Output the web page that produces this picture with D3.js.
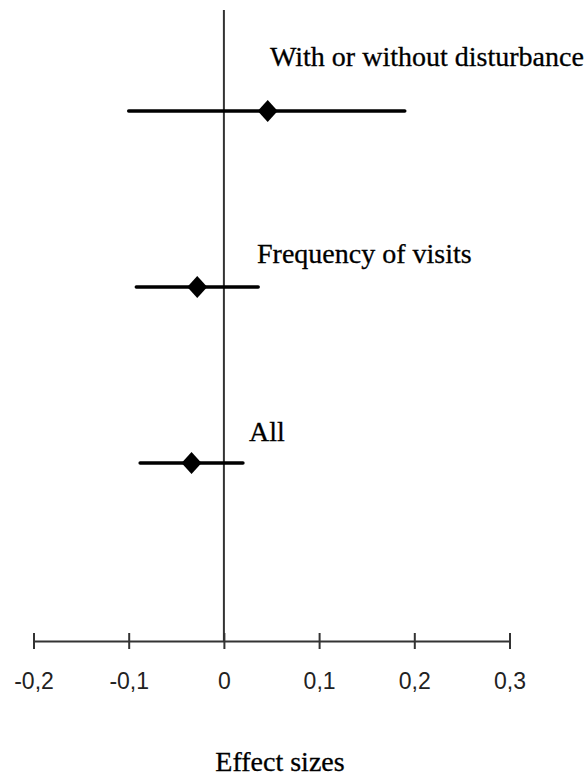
<!DOCTYPE html>
<html>
<head>
<meta charset="utf-8">
<script src="https://d3js.org/d3.v7.min.js"></script>
<style>
  body { margin: 0; background: #fff; }
  .lab { font-family: "Liberation Serif", "Times New Roman", serif; font-size: 28px; fill: #000; stroke: #000; stroke-width: 0.3px; }
  .tick text { font-family: "Liberation Sans", Arial, sans-serif; font-size: 23px; fill: #222; }
</style>
</head>
<body>
<svg width="588" height="778"></svg>
<script>
// data
var groups = ["With or without disturbance", "Frequency of visits", "All"];
var effect = [0.046, -0.028, -0.034];
var lower  = [-0.10, -0.092, -0.088];
var upper  = [0.19, 0.036, 0.020];
var tickValues = [-0.2, -0.1, 0, 0.1, 0.2, 0.3];
var tickLabels = ["-0,2", "-0,1", "0", "0,1", "0,2", "0,3"];

var svg = d3.select("svg");
var axisY = 641;

var x = d3.scaleLinear().domain([-0.2, 0.3]).range([33.5, 509.5]);
var y = d3.scalePoint().domain(groups).range([111, 463]);

// zero line
svg.append("line")
  .attr("x1", x(0)).attr("x2", x(0))
  .attr("y1", 10).attr("y2", axisY)
  .style("stroke", "#333").style("stroke-width", 2);

// axis
var ax = svg.append("g")
  .attr("transform", "translate(0," + axisY + ")")
  .call(d3.axisBottom(x).tickValues(tickValues)
    .tickFormat(function(d, i) { return tickLabels[i]; })
    .tickSizeOuter(0).tickSizeInner(8).tickPadding(24));
ax.select(".domain").style("stroke", "#333").style("stroke-width", 2);
ax.selectAll(".tick line").attr("y1", -8).style("stroke", "#333").style("stroke-width", 2);

// error bars
svg.append("g").selectAll("line")
  .data(groups).enter().append("line")
  .attr("x1", function(d, i) { return x(lower[i]); })
  .attr("x2", function(d, i) { return x(upper[i]); })
  .attr("y1", function(d) { return y(d); })
  .attr("y2", function(d) { return y(d); })
  .style("stroke", "#000").style("stroke-width", 3.5)
  .style("stroke-linecap", "round");

// diamonds
var diamond = {
  draw: function(ctx, size) {
    var w = 10, h = 11;
    ctx.moveTo(0, -h); ctx.lineTo(w, 0); ctx.lineTo(0, h); ctx.lineTo(-w, 0); ctx.closePath();
  }
};
svg.append("g").selectAll("path")
  .data(groups).enter().append("path")
  .attr("d", d3.symbol().type(diamond))
  .attr("transform", function(d, i) { return "translate(" + x(effect[i]) + "," + y(d) + ")"; })
  .style("fill", "#000");

// group labels
var labelX = [270, 257, 249];
var labelDy = [-45, -24, -22];
svg.append("g").selectAll("text")
  .data(groups).enter().append("text")
  .attr("class", "lab")
  .attr("x", function(d, i) { return labelX[i]; })
  .attr("y", function(d, i) { return y(d) + labelDy[i]; })
  .text(function(d) { return d; });

// axis title
svg.append("text")
  .attr("class", "lab")
  .attr("x", 280).attr("y", 771)
  .style("text-anchor", "middle")
  .text("Effect sizes");
</script>
</body>
</html>
